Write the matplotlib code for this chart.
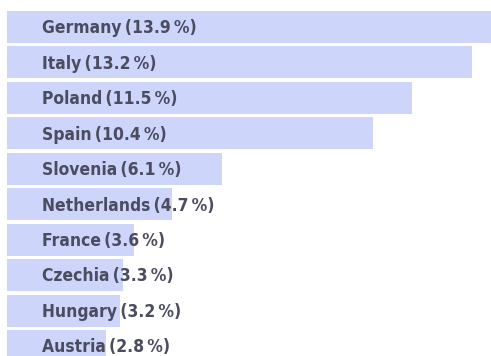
import matplotlib.pyplot as plt
from matplotlib import font_manager

# Share by country, largest first
countries = ["Germany", "Italy", "Poland", "Spain", "Slovenia",
             "Netherlands", "France", "Czechia", "Hungary", "Austria"]
shares = [13.9, 13.2, 11.5, 10.4, 6.1, 4.7, 3.6, 3.3, 3.2, 2.8]

bar_color = "#cdd5fb"
text_color = "#4b4c60"

names = {f.name for f in font_manager.fontManager.ttflist}
label_font = "Liberation Sans Narrow" if "Liberation Sans Narrow" in names else "DejaVu Sans"

fig = plt.figure(figsize=(4.91, 3.56), dpi=100)
ax = fig.add_axes([0, 0, 1, 1])

y = list(range(len(countries)))
ax.barh(y, shares, height=0.9, color=bar_color, left=0)

thin = "\u2009"
for i, (name, val) in enumerate(zip(countries, shares)):
    ax.text(0.99, i + 0.03, f"{name}{thin}({val}{thin}%)", va="center", ha="left",
            fontsize=12.5, fontweight="bold", color=text_color,
            family=[label_font, "DejaVu Sans"], fontstretch="condensed")

ax.set_xlim(-0.199, 13.75)
ax.set_ylim(9.27, -0.76)
ax.axis("off")

fig.savefig("out.png", dpi=100)
